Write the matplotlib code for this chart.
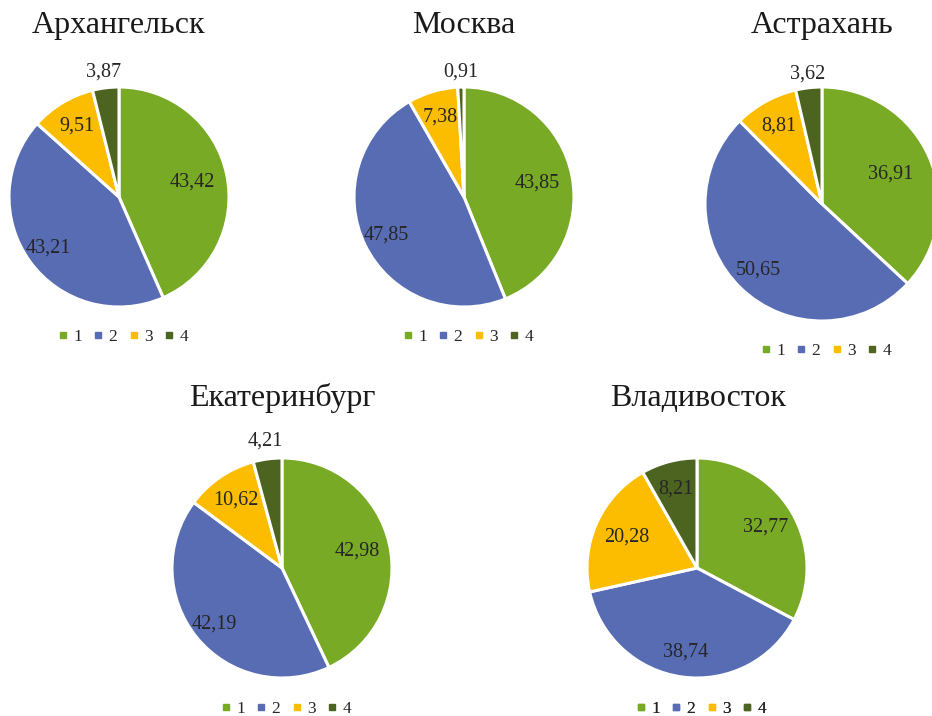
import matplotlib
matplotlib.use("Agg")
import matplotlib.pyplot as plt
from matplotlib.lines import Line2D
import numpy as np

plt.rcParams['font.family'] = ['Liberation Serif', 'DejaVu Serif']

cities = ["Архангельск", "Москва", "Астрахань", "Екатеринбург", "Владивосток"]
values = [
    [43.42, 43.21, 9.51, 3.87],
    [43.85, 47.85, 7.38, 0.91],
    [36.91, 50.65, 8.81, 3.62],
    [42.98, 42.19, 10.62, 4.21],
    [32.77, 38.74, 20.28, 8.21],
]
categories = ["1", "2", "3", "4"]
colors = ["#79AA25", "#576CB3", "#FCBD00", "#4D6420"]

# layout (pixels, y from top)
centers = [(119, 197), (464, 197), (822, 204), (282, 568), (697, 568)]
radii = [110, 110, 117, 110, 110]
title_pos = [(119, 33), (464, 33), (822, 33), (282, 406), (698, 406)]
legend_pos = [(123, 337), (468, 337), (826, 351), (286, 709), (701, 709)]
label_dist = [
    [0.68, 0.79, 0.75, 1.14],
    [0.68, 0.79, 0.76, 1.14],
    [0.64, 0.78, 0.76, 1.12],
    [0.70, 0.80, 0.75, 1.16],
    [0.73, 0.77, 0.70, 0.74],
]

W, H = 932, 716
fig = plt.figure(figsize=(W / 100, H / 100), dpi=100)
ax = fig.add_axes([0, 0, 1, 1])

for i, city in enumerate(cities):
    cx, cy = centers[i]
    r = radii[i]
    c = (cx, H - cy)
    wedges, _ = ax.pie(values[i], colors=colors, startangle=90, counterclock=False,
                       center=c, radius=r, frame=True,
                       wedgeprops=dict(edgecolor="white", linewidth=2.2))
    for w, v, d in zip(wedges, values[i], label_dist[i]):
        ang = np.deg2rad((w.theta1 + w.theta2) / 2)
        x = c[0] + d * r * np.cos(ang)
        y = c[1] + d * r * np.sin(ang)
        ax.text(x, y, f"{v:.2f}".replace(".", ","), ha="center", va="center",
                fontsize=14.5, color="#262626")
    tx, ty = title_pos[i]
    ax.text(tx, H - ty, city, ha="center", va="baseline", fontsize=23, color="#1a1a1a")
    handles = [Line2D([], [], marker="s", linestyle="none", markersize=5,
                      markerfacecolor=col, markeredgecolor=col) for col in colors]
    lx, ly = legend_pos[i]
    leg = ax.legend(handles, categories, loc="center", bbox_to_anchor=(lx, H - ly),
                    bbox_transform=ax.transData, ncol=4, frameon=False,
                    fontsize=12.5, handlelength=0.6, handletextpad=0.3,
                    columnspacing=0.65, borderpad=0, labelcolor="#262626")
    ax.add_artist(leg)

ax.set_xlim(0, W)
ax.set_ylim(0, H)
ax.set_aspect("equal")
ax.axis("off")

fig.savefig("out.png", dpi=100)
